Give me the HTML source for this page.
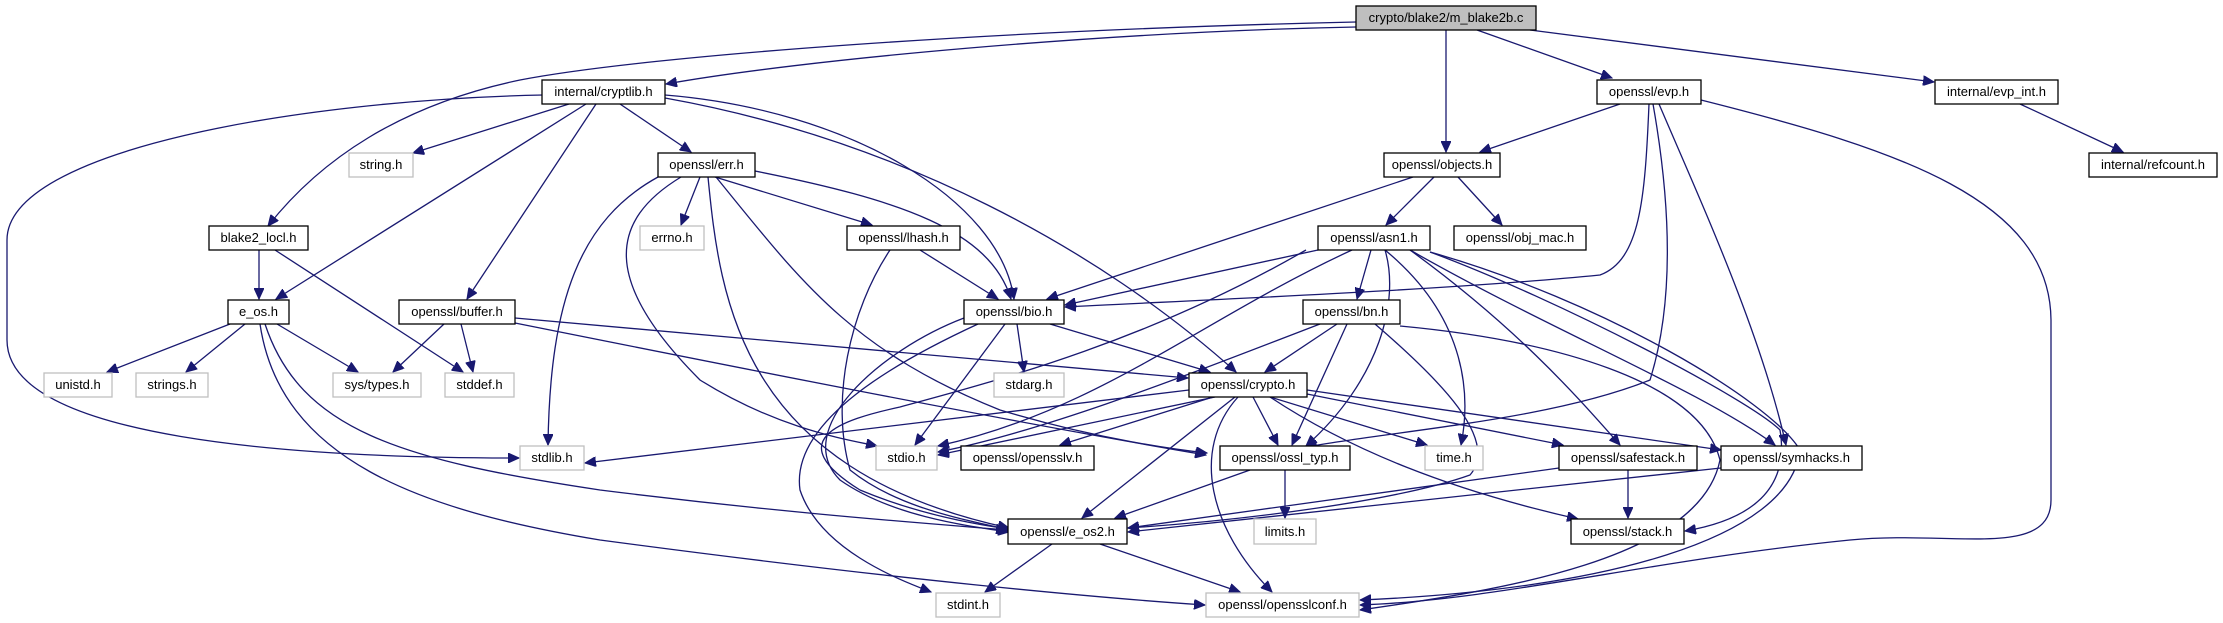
<!DOCTYPE html>
<html><head><meta charset="utf-8"><style>
html,body{margin:0;padding:0;background:#fff;width:2223px;height:623px;overflow:hidden}
svg{display:block}
text{font-family:"Liberation Sans",Arial,sans-serif;font-size:13px;fill:#000}
.e{fill:none;stroke:#191970;stroke-width:1.3;marker-end:url(#a)}
.n{fill:#fff;stroke:#000;stroke-width:1.3}
.g{fill:#fff;stroke:#bfbfbf;stroke-width:1.3}
</style></head><body>
<svg width="2223" height="623" viewBox="0 0 2223 623" xmlns="http://www.w3.org/2000/svg">
<defs><marker id="a" markerUnits="userSpaceOnUse" markerWidth="12" markerHeight="10" refX="11" refY="5" orient="auto"><path d="M0,0 L11,5 L0,10 z" fill="#191970" stroke="#191970"/></marker></defs>
<!-- edges -->
<path class="e" d="M1356,27 C1100,32 800,60 666,84"/>
<path class="e" d="M1356,22 C1000,30 650,55 520,80 C400,105 320,160 268,226"/>
<path class="e" d="M1446,30 L1446,152"/>
<path class="e" d="M1477,30 L1612,78"/>
<path class="e" d="M1530,30 L1934,82"/>
<path class="e" d="M543,95 C300,100 7,150 7,240 L7,340 C7,440 300,458 519,458"/>
<path class="e" d="M569,104 L413,153"/>
<path class="e" d="M586,104 L276,299"/>
<path class="e" d="M596,104 L467,299"/>
<path class="e" d="M620,104 L691,152"/>
<path class="e" d="M665,95 C850,110 1000,200 1014,299"/>
<path class="e" d="M665,98 C900,140 1100,250 1236,372"/>
<path class="e" d="M259,250 L259,299"/>
<path class="e" d="M275,250 L463,372"/>
<path class="e" d="M700,177 L681,225"/>
<path class="e" d="M715,177 L872,225"/>
<path class="e" d="M755,171 C900,200 990,230 1011,299"/>
<path class="e" d="M658,177 C580,220 550,300 548,445"/>
<path class="e" d="M681,177 C610,220 600,280 700,380 C780,430 850,440 877,446"/>
<path class="e" d="M708,177 C720,300 740,470 1009,528"/>
<path class="e" d="M716,177 C800,280 850,350 1000,410 C1100,440 1180,450 1207,453"/>
<path class="e" d="M920,250 L998,299"/>
<path class="e" d="M890,250 C850,310 830,400 850,470 C900,510 970,520 1009,530"/>
<path class="e" d="M1017,324 L1024,372"/>
<path class="e" d="M1005,324 L915,445"/>
<path class="e" d="M1050,324 L1210,372"/>
<path class="e" d="M964,318 C880,350 790,430 840,480 C890,515 960,525 1009,532"/>
<path class="e" d="M978,324 C900,360 790,420 800,490 C820,550 900,580 931,592"/>
<path class="e" d="M444,324 L393,372"/>
<path class="e" d="M461,324 L473,372"/>
<path class="e" d="M515,318 L1188,378"/>
<path class="e" d="M515,323 C700,360 1000,420 1206,455"/>
<path class="e" d="M230,324 L107,372"/>
<path class="e" d="M245,324 L186,372"/>
<path class="e" d="M277,324 L358,372"/>
<path class="e" d="M265,324 C300,430 400,460 600,490 C800,515 950,525 1007,530"/>
<path class="e" d="M260,324 C280,460 420,510 600,540 C900,580 1100,598 1205,605"/>
<path class="e" d="M1413,177 L1047,299"/>
<path class="e" d="M1434,177 L1386,225"/>
<path class="e" d="M1458,177 L1502,225"/>
<path class="e" d="M1620,104 L1480,152"/>
<path class="e" d="M1649,104 C1645,200 1640,260 1600,275 C1450,290 1200,300 1065,307"/>
<path class="e" d="M1653,104 C1670,200 1675,300 1650,380 C1550,420 1400,430 1306,447"/>
<path class="e" d="M1659,104 C1700,200 1760,330 1786,445"/>
<path class="e" d="M1701,100 C1900,150 2050,200 2051,320 L2051,500 C2051,560 1950,530 1850,540 C1650,560 1500,600 1360,605"/>
<path class="e" d="M2020,104 L2123,152"/>
<path class="e" d="M1318,250 L1065,305"/>
<path class="e" d="M1352,250 C1200,320 1100,410 938,446"/>
<path class="e" d="M1371,250 L1357,299"/>
<path class="e" d="M1385,250 C1400,300 1380,380 1306,446"/>
<path class="e" d="M1385,250 C1470,320 1470,400 1461,445"/>
<path class="e" d="M1410,250 C1520,330 1580,400 1620,445"/>
<path class="e" d="M1410,250 C1550,330 1700,390 1775,445"/>
<path class="e" d="M1430,252 C1560,300 1750,400 1780,430 C1790,490 1750,520 1685,531"/>
<path class="e" d="M1430,252 C1600,300 1770,400 1800,450 C1790,540 1600,590 1360,600"/>
<path class="e" d="M1306,250 C1150,340 1000,380 900,407 C840,420 780,440 860,490 C920,515 980,525 1009,529"/>
<path class="e" d="M1337,324 L1265,372"/>
<path class="e" d="M1347,324 L1292,445"/>
<path class="e" d="M1320,324 C1200,370 1050,430 938,452"/>
<path class="e" d="M1375,324 C1440,380 1500,440 1470,475 C1400,500 1250,520 1128,528"/>
<path class="e" d="M1400,326 C1550,340 1700,380 1720,460 C1700,560 1500,590 1360,610"/>
<path class="e" d="M1189,390 L585,463"/>
<path class="e" d="M1215,397 L938,455"/>
<path class="e" d="M1213,397 L1060,445"/>
<path class="e" d="M1253,397 L1278,445"/>
<path class="e" d="M1270,397 L1427,445"/>
<path class="e" d="M1307,394 L1563,445"/>
<path class="e" d="M1307,390 L1721,450"/>
<path class="e" d="M1270,397 C1350,450 1450,490 1578,519"/>
<path class="e" d="M1235,397 C1180,440 1130,480 1082,518"/>
<path class="e" d="M1238,397 C1190,450 1210,530 1272,592"/>
<path class="e" d="M1250,470 L1115,518"/>
<path class="e" d="M1285,470 L1285,518"/>
<path class="e" d="M1628,470 L1628,518"/>
<path class="e" d="M1559,468 L1128,528"/>
<path class="e" d="M1721,468 L1128,532"/>
<path class="e" d="M1052,544 L985,592"/>
<path class="e" d="M1100,544 L1240,592"/>
<!-- nodes -->
<rect x="1356" y="6" width="180" height="24" fill="#bfbfbf" stroke="#000" stroke-width="1.3"/><text x="1446" y="22" text-anchor="middle">crypto/blake2/m_blake2b.c</text>
<rect class="n" x="542" y="80" width="123" height="24"/><text x="603.5" y="96" text-anchor="middle">internal/cryptlib.h</text>
<rect class="n" x="1597" y="80" width="104" height="24"/><text x="1649" y="96" text-anchor="middle">openssl/evp.h</text>
<rect class="n" x="1935" y="80" width="123" height="24"/><text x="1996.5" y="96" text-anchor="middle">internal/evp_int.h</text>
<rect class="g" x="349" y="153" width="64" height="24"/><text x="381" y="169" text-anchor="middle">string.h</text>
<rect class="n" x="658" y="153" width="97" height="24"/><text x="706.5" y="169" text-anchor="middle">openssl/err.h</text>
<rect class="n" x="1384" y="153" width="116" height="24"/><text x="1442" y="169" text-anchor="middle">openssl/objects.h</text>
<rect class="n" x="2089" y="153" width="128" height="24"/><text x="2153" y="169" text-anchor="middle">internal/refcount.h</text>
<rect class="n" x="209" y="226" width="99" height="24"/><text x="258.5" y="242" text-anchor="middle">blake2_locl.h</text>
<rect class="g" x="640" y="226" width="64" height="24"/><text x="672" y="242" text-anchor="middle">errno.h</text>
<rect class="n" x="847" y="226" width="113" height="24"/><text x="903.5" y="242" text-anchor="middle">openssl/lhash.h</text>
<rect class="n" x="1318" y="226" width="112" height="24"/><text x="1374" y="242" text-anchor="middle">openssl/asn1.h</text>
<rect class="n" x="1454" y="226" width="132" height="24"/><text x="1520" y="242" text-anchor="middle">openssl/obj_mac.h</text>
<rect class="n" x="228" y="300" width="61" height="24"/><text x="258.5" y="316" text-anchor="middle">e_os.h</text>
<rect class="n" x="399" y="300" width="116" height="24"/><text x="457" y="316" text-anchor="middle">openssl/buffer.h</text>
<rect class="n" x="964" y="300" width="100" height="24"/><text x="1014" y="316" text-anchor="middle">openssl/bio.h</text>
<rect class="n" x="1303" y="300" width="97" height="24"/><text x="1351.5" y="316" text-anchor="middle">openssl/bn.h</text>
<rect class="g" x="44" y="373" width="68" height="24"/><text x="78" y="389" text-anchor="middle">unistd.h</text>
<rect class="g" x="136" y="373" width="72" height="24"/><text x="172" y="389" text-anchor="middle">strings.h</text>
<rect class="g" x="333" y="373" width="88" height="24"/><text x="377" y="389" text-anchor="middle">sys/types.h</text>
<rect class="g" x="445" y="373" width="69" height="24"/><text x="479.5" y="389" text-anchor="middle">stddef.h</text>
<rect class="g" x="994" y="373" width="70" height="24"/><text x="1029" y="389" text-anchor="middle">stdarg.h</text>
<rect class="n" x="1189" y="373" width="118" height="24"/><text x="1248" y="389" text-anchor="middle">openssl/crypto.h</text>
<rect class="g" x="520" y="446" width="64" height="24"/><text x="552" y="462" text-anchor="middle">stdlib.h</text>
<rect class="g" x="876" y="446" width="61" height="24"/><text x="906.5" y="462" text-anchor="middle">stdio.h</text>
<rect class="n" x="961" y="446" width="133" height="24"/><text x="1027.5" y="462" text-anchor="middle">openssl/opensslv.h</text>
<rect class="n" x="1220" y="446" width="130" height="24"/><text x="1285" y="462" text-anchor="middle">openssl/ossl_typ.h</text>
<rect class="g" x="1425" y="446" width="58" height="24"/><text x="1454" y="462" text-anchor="middle">time.h</text>
<rect class="n" x="1559" y="446" width="138" height="24"/><text x="1628" y="462" text-anchor="middle">openssl/safestack.h</text>
<rect class="n" x="1721" y="446" width="141" height="24"/><text x="1791.5" y="462" text-anchor="middle">openssl/symhacks.h</text>
<rect class="n" x="1008" y="519" width="119" height="25"/><text x="1067.5" y="536" text-anchor="middle">openssl/e_os2.h</text>
<rect class="g" x="1254" y="519" width="62" height="25"/><text x="1285" y="536" text-anchor="middle">limits.h</text>
<rect class="n" x="1571" y="519" width="113" height="25"/><text x="1627.5" y="536" text-anchor="middle">openssl/stack.h</text>
<rect class="g" x="936" y="593" width="64" height="24"/><text x="968" y="609" text-anchor="middle">stdint.h</text>
<rect class="g" x="1206" y="593" width="153" height="24"/><text x="1282.5" y="609" text-anchor="middle">openssl/opensslconf.h</text>
</svg>
</body></html>
